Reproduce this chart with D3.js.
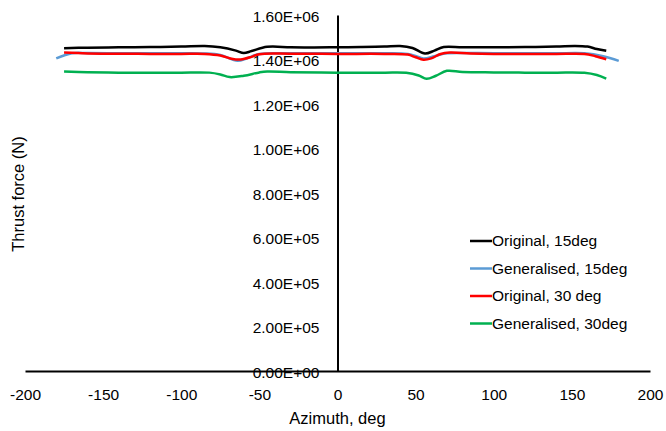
<!DOCTYPE html>
<html>
<head>
<meta charset="utf-8">
<script src="https://cdn.jsdelivr.net/npm/d3@7"></script>
<style>
body { margin: 0; background: #fff; }
text { font-family: "Liberation Sans", Arial, sans-serif; fill: #000; }
</style>
</head>
<body>
<div id="chart"></div>
<script>
// azimuth (deg) and thrust (N) per series
var azA = [-175,-160,-140,-120,-100,-85,-75,-65,-60,-55,-45,-30,-15,0,15,30,40,48,56,62,68,80,100,120,140,152,160,166,172]
var original15 = [1.451e6,1.453e6,1.455e6,1.456e6,1.458e6,1.461e6,1.455e6,1.440e6,1.429e6,1.438e6,1.457e6,1.455e6,1.454e6,1.455e6,1.456e6,1.458e6,1.461e6,1.452e6,1.427e6,1.440e6,1.456e6,1.455e6,1.455e6,1.456e6,1.458e6,1.461e6,1.458e6,1.447e6,1.439e6]

var azB = [-180,-170,-160,-140,-120,-100,-85,-75,-64,-58,-50,-30,0,30,45,50,55,62,70,85,100,120,140,158,170,180]
var general15 = [1.405e6,1.428e6,1.429e6,1.428e6,1.428e6,1.428e6,1.427e6,1.420e6,1.394e6,1.405e6,1.425e6,1.428e6,1.428e6,1.428e6,1.425e6,1.416e6,1.405e6,1.415e6,1.428e6,1.429e6,1.428e6,1.428e6,1.428e6,1.428e6,1.415e6,1.394e6]

var azC = [-175,-160,-140,-120,-100,-85,-75,-67,-62,-55,-50,-30,0,30,45,50,55,60,66,72,85,100,120,140,158,165,172]
var original30 = [1.431e6,1.427e6,1.426e6,1.425e6,1.425e6,1.425e6,1.418e6,1.402e6,1.400e6,1.412e6,1.424e6,1.426e6,1.425e6,1.425e6,1.422e6,1.410e6,1.399e6,1.405e6,1.425e6,1.431e6,1.427e6,1.425e6,1.425e6,1.425e6,1.425e6,1.415e6,1.401e6]

var azD = [-175,-160,-140,-120,-100,-82,-75,-69,-60,-50,-45,-30,0,30,44,52,57,63,70,80,100,120,140,158,166,172]
var general30 = [1.346e6,1.343e6,1.341e6,1.340e6,1.341e6,1.341e6,1.333e6,1.321e6,1.327e6,1.342e6,1.346e6,1.343e6,1.341e6,1.341e6,1.340e6,1.328e6,1.313e6,1.327e6,1.349e6,1.344e6,1.342e6,1.341e6,1.341e6,1.340e6,1.330e6,1.314e6]

var names = ["Original, 15deg", "Generalised, 15deg", "Original, 30 deg", "Generalised, 30deg"]
var colors = ["#000000", "#5B9BD5", "#FF0000", "#00B050"]
var xTicks = [-200,-150,-100,-50,0,50,100,150,200]
var yTicks = [0,2e5,4e5,6e5,8e5,1e6,1.2e6,1.4e6,1.6e6]

var W = 666, H = 431
var tickSize = 15.5

var svg = d3.select("#chart").append("svg")
	.attr("width", W)
	.attr("height", H)

var x = d3.scaleLinear().domain([-200, 200]).range([25, 650])
var y = d3.scaleLinear().domain([0, 1.6e6]).range([371, 15])

// x axis along y = 0
var xAxis = svg.append("g")
	.attr("transform", "translate(0," + y(0) + ")")
	.call(d3.axisBottom(x).tickValues(xTicks).tickSize(0).tickPadding(18).tickFormat(function(d) { return String(d) }))
xAxis.select(".domain").attr("stroke", "#000").attr("stroke-width", 2)
xAxis.selectAll("text").attr("font-size", tickSize).attr("font-family", null)

// y axis along x = 0
var yAxis = svg.append("g")
	.attr("transform", "translate(" + x(0) + ",0)")
	.call(d3.axisLeft(y).tickValues(yTicks).tickSize(0).tickPadding(18)
		.tickFormat(function(d) { return d.toExponential(2).toUpperCase().replace(/E([+-])(\d)$/, "E$10$2") }))
yAxis.select(".domain").attr("stroke", "#000").attr("stroke-width", 2)
yAxis.selectAll("text").attr("font-size", tickSize).attr("font-family", null).attr("dy", "0.4em")

var series = [
	{ az: azA, v: original15 },
	{ az: azB, v: general15 },
	{ az: azC, v: original30 },
	{ az: azD, v: general30 }
]

var line = d3.line()
	.x(function(d) { return x(d[0]) })
	.y(function(d) { return y(d[1]) })
	.curve(d3.curveCatmullRom.alpha(0.5))

series.forEach(function(s, i) {
	svg.append("path")
		.datum(s.az.map(function(a, j) { return [a, s.v[j]] }))
		.attr("fill", "none")
		.attr("stroke", colors[i])
		.attr("stroke-width", 2.5)
		.attr("d", line)
})

// axis titles
svg.append("text")
	.attr("x", x(0))
	.attr("y", 424)
	.attr("text-anchor", "middle")
	.attr("font-size", 16.5)
	.text("Azimuth, deg")

svg.append("text")
	.attr("transform", "translate(18,194) rotate(-90)")
	.attr("text-anchor", "middle")
	.attr("dy", "0.35em")
	.attr("font-size", 16.5)
	.text("Thrust force (N)")

// legend
var legend = svg.append("g").attr("transform", "translate(470,241)")
names.forEach(function(n, i) {
	var g = legend.append("g").attr("transform", "translate(0," + (i * 27.5) + ")")
	g.append("line")
		.attr("x1", 0).attr("x2", 22)
		.attr("y1", 0).attr("y2", 0)
		.attr("stroke", colors[i])
		.attr("stroke-width", 2.5)
	g.append("text")
		.attr("x", 22)
		.attr("y", 0)
		.attr("dy", "0.35em")
		.attr("font-size", tickSize)
		.text(n)
})
</script>
</body>
</html>
